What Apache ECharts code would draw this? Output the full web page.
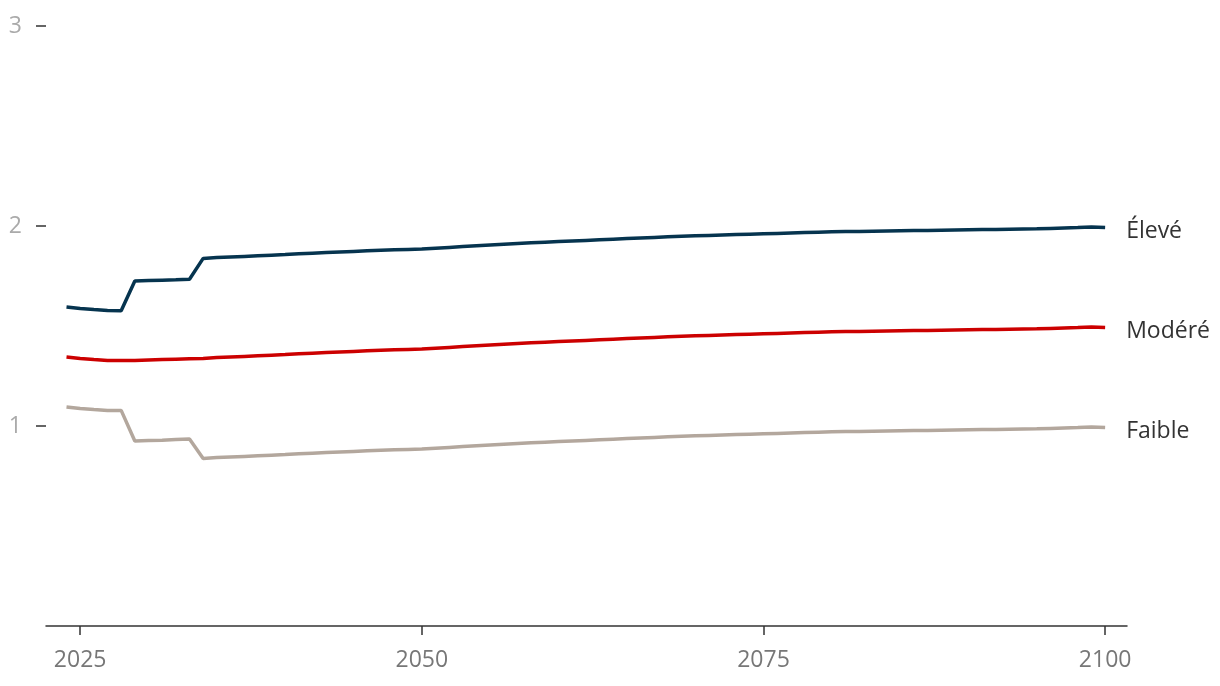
<!DOCTYPE html>
<html>
<head>
<meta charset="utf-8">
<script src="https://cdn.jsdelivr.net/npm/echarts@6/dist/echarts.min.js"></script>
<style>
html,body{margin:0;padding:0;background:#fff;}
#chart{width:1220px;height:686px;}
</style>
</head>
<body>
<div id="chart"></div>
<script>
var years = [];
for (var y = 2024; y <= 2100; y++) years.push(y);

var eleve = [1.595,1.587,1.582,1.578,1.576,1.725,1.727,1.729,1.731,1.734,1.838,
1.842,1.845,1.848,1.851,1.854,1.857,1.861,1.864,1.867,1.870,1.873,1.876,1.879,1.881,1.883,1.885,
1.889,1.893,1.897,1.901,1.905,1.909,1.913,1.916,1.919,1.922,1.925,1.928,1.931,1.934,1.937,1.940,1.943,1.946,1.949,1.951,
1.953,1.955,1.957,1.959,1.961,1.963,1.965,1.967,1.969,1.971,1.972,1.973,1.974,1.975,1.976,1.977,1.978,1.979,1.980,1.981,
1.982,1.983,1.984,1.985,1.986,1.988,1.990,1.992,1.995,1.993];

var modere = [1.345,1.337,1.332,1.328,1.328,1.328,1.330,1.332,1.334,1.336,1.338,
1.342,1.345,1.348,1.351,1.354,1.357,1.361,1.364,1.367,1.370,1.373,1.376,1.379,1.381,1.383,1.385,
1.389,1.393,1.397,1.401,1.405,1.409,1.413,1.416,1.419,1.422,1.425,1.428,1.431,1.434,1.437,1.440,1.443,1.446,1.449,1.451,
1.453,1.455,1.457,1.459,1.461,1.463,1.465,1.467,1.469,1.471,1.472,1.473,1.474,1.475,1.476,1.477,1.478,1.479,1.480,1.481,
1.482,1.483,1.484,1.485,1.486,1.488,1.490,1.492,1.495,1.493];

var faible = [1.095,1.087,1.082,1.078,1.078,0.925,0.927,0.929,0.932,0.935,0.838,
0.842,0.845,0.848,0.851,0.854,0.857,0.861,0.864,0.867,0.870,0.873,0.876,0.879,0.881,0.883,0.885,
0.889,0.893,0.897,0.901,0.905,0.909,0.913,0.916,0.919,0.922,0.925,0.928,0.931,0.934,0.937,0.940,0.943,0.946,0.949,0.951,
0.953,0.955,0.957,0.959,0.961,0.963,0.965,0.967,0.969,0.971,0.972,0.973,0.974,0.975,0.976,0.977,0.978,0.979,0.980,0.981,
0.982,0.983,0.984,0.985,0.986,0.988,0.990,0.992,0.995,0.993];

var seriesNames = ['Élevé', 'Modéré', 'Faible'];
var seriesColors = ['#06344f', '#cc0000', '#b3a79d'];
var xTicks = [2025, 2050, 2075, 2100];
var yTicks = [1, 2, 3];

function pairs(vals){ return years.map(function(yr,i){ return [yr, vals[i]]; }); }
var allVals = [eleve, modere, faible];

var FONT = '"Open Sans", "Noto Sans", sans-serif';

var chart = echarts.init(document.getElementById('chart'), null, {renderer:'canvas'});
chart.setOption({
  animation: false,
  backgroundColor: '#ffffff',
  grid: {left: 46, right: 93, top: 26, bottom: 60, containLabel: false},
  xAxis: {
    type: 'value', min: 2022.5, max: 2101.6,
    axisLine: {show: true, lineStyle: {color: '#333', width: 1.5}},
    axisTick: {show: true, customValues: xTicks, length: 9, lineStyle: {color: '#333', width: 1.5}},
    axisLabel: {customValues: xTicks, formatter: function(v){ return String(v); }, color: '#777', fontSize: 23, fontFamily: FONT, margin: 23},
    splitLine: {show: false}
  },
  yAxis: {
    type: 'value', min: 0, max: 3,
    axisLine: {show: false},
    axisTick: {show: true, customValues: yTicks, length: 10, lineStyle: {color: '#333', width: 1.5}},
    axisLabel: {customValues: yTicks, color: '#aaa', fontSize: 23, fontFamily: FONT, margin: 24},
    splitLine: {show: false}
  },
  series: seriesNames.map(function(n, i){
    return {
      name: n, type: 'line', data: pairs(allVals[i]), showSymbol: false, symbol: 'none',
      lineStyle: {color: seriesColors[i], width: 3.5},
      itemStyle: {color: seriesColors[i]},
      endLabel: {show: true, formatter: n, color: '#333', fontSize: 23, fontFamily: FONT, distance: 21, offset: [0, 4]}
    };
  })
});
</script>
</body>
</html>
